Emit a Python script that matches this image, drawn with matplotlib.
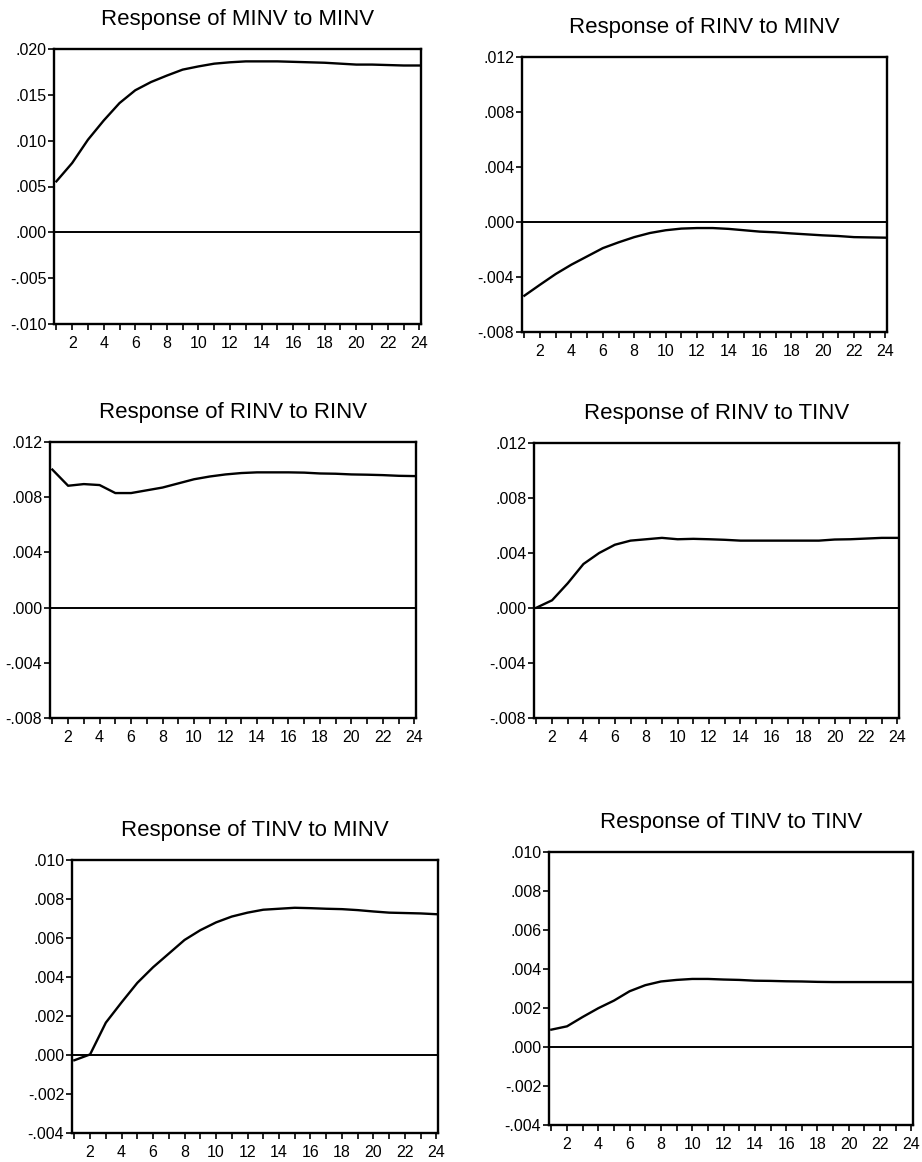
"""
Impulse response panels (EViews style).
"""
import numpy as np
from matplotlib import pyplot as plt
from matplotlib.ticker import FuncFormatter, MultipleLocator

plt.rcParams["font.family"] = ["Liberation Sans", "DejaVu Sans"]

periods = np.arange(1, 25)

titles = [
    "Response of MINV to MINV",
    "Response of RINV to MINV",
    "Response of RINV to RINV",
    "Response of RINV to TINV",
    "Response of TINV to MINV",
    "Response of TINV to TINV",
]

minv_to_minv = [0.00556, 0.00756, 0.0101, 0.0122, 0.0141, 0.0155, 0.0164, 0.0171,
                0.01775, 0.0181, 0.0184, 0.01855, 0.01865, 0.01865, 0.01865, 0.0186,
                0.01855, 0.0185, 0.0184, 0.0183, 0.0183, 0.01825, 0.0182, 0.0182]
rinv_to_minv = [-0.00536, -0.00456, -0.00378, -0.0031, -0.0025, -0.0019, -0.00148, -0.0011,
                -0.0008, -0.0006, -0.00048, -0.00044, -0.00044, -0.0005, -0.0006, -0.0007,
                -0.00075, -0.00083, -0.0009, -0.00097, -0.00102, -0.0011, -0.00112, -0.00114]
rinv_to_rinv = [0.0100, 0.00883, 0.00895, 0.00888, 0.0083, 0.0083, 0.0085, 0.0087,
                0.0090, 0.0093, 0.0095, 0.00965, 0.00975, 0.0098, 0.0098, 0.0098,
                0.00978, 0.00972, 0.0097, 0.00965, 0.00963, 0.0096, 0.00955, 0.00953]
rinv_to_tinv = [0.00002, 0.00056, 0.0018, 0.0032, 0.0040, 0.0046, 0.0049, 0.0050,
                0.0051, 0.0050, 0.00503, 0.0050, 0.00496, 0.0049, 0.0049, 0.0049,
                0.0049, 0.0049, 0.0049, 0.00498, 0.005, 0.00505, 0.0051, 0.0051]
tinv_to_minv = [-0.00027, 0.00003, 0.00166, 0.0027, 0.0037, 0.0045, 0.0052, 0.0059,
                0.0064, 0.0068, 0.0071, 0.0073, 0.00745, 0.0075, 0.00755, 0.00753,
                0.0075, 0.00748, 0.00743, 0.00736, 0.0073, 0.00728, 0.00726, 0.00722]
tinv_to_tinv = [0.00089, 0.00106, 0.00154, 0.00199, 0.00238, 0.00286, 0.00317, 0.00336,
                0.00344, 0.00349, 0.00349, 0.00346, 0.00344, 0.0034, 0.00339, 0.00337,
                0.00336, 0.00334, 0.00333, 0.00333, 0.00333, 0.00333, 0.00333, 0.00333]

responses = [minv_to_minv, rinv_to_minv, rinv_to_rinv,
             rinv_to_tinv, tinv_to_minv, tinv_to_tinv]

y_limits = [(-0.010, 0.020), (-0.008, 0.012), (-0.008, 0.012),
            (-0.008, 0.012), (-0.004, 0.010), (-0.004, 0.010)]
y_steps = [0.005, 0.004, 0.004, 0.004, 0.002, 0.002]

# axes boxes in pixels: left, top, right, bottom
W, H = 922, 1162
boxes = [
    (54, 49, 421, 324),
    (522, 57, 887, 332),
    (50, 442, 416, 718),
    (534, 443, 899, 718),
    (72, 860, 438, 1133),
    (549, 852, 913, 1125),
]


def fmt(v, pos):
    if abs(v) < 1e-9:
        return ".000"
    return ("%.3f" % v).replace("0.", ".", 1)


fig = plt.figure(figsize=(W / 100, H / 100), dpi=100)

for title, resp, ylim, step, (l, t, r, b) in zip(titles, responses, y_limits, y_steps, boxes):
    ax = fig.add_axes([l / W, 1 - b / H, (r - l) / W, (b - t) / H])
    ax.plot(periods, resp, color="black", lw=1.7)
    ax.axhline(0, color="black", lw=1.4)
    ax.set_xlim(0.85, 24.1)
    ax.set_ylim(*ylim)
    ax.yaxis.set_major_locator(MultipleLocator(step))
    ax.yaxis.set_major_formatter(FuncFormatter(fmt))
    ax.set_xticks(np.arange(2, 25, 2))
    ax.set_xticks(np.arange(1, 25, 2), minor=True)
    ax.tick_params(axis="both", which="both", direction="out", length=4,
                   width=1.2, labelsize=11.5, pad=1.5)
    ax.tick_params(axis="x", which="major", pad=4.5)
    for sp in ax.spines.values():
        sp.set_linewidth(1.7)
    ax.set_title(title, fontsize=16, pad=17)

fig.savefig("out.png", dpi=100)
